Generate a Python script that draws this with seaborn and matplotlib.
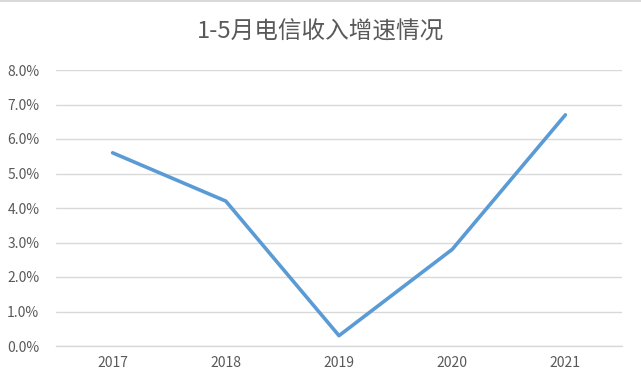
import matplotlib
matplotlib.use("Agg")
import matplotlib.pyplot as plt
from matplotlib.ticker import PercentFormatter
import pandas as pd
import seaborn as sns

# ── Data ──────────────────────────────────────────────────────────────────────
years = ["2017", "2018", "2019", "2020", "2021"]
growth = [5.6, 4.2, 0.3, 2.8, 6.7]          # % growth
y_ticks = [0, 1, 2, 3, 4, 5, 6, 7, 8]

TITLE = "1-5月电信收入增速情况"
LINE_COLOR = "#5B9BD5"
TEXT_COLOR = "#595959"
GRID_COLOR = "#D9D9D9"

sns.set_theme(style="white")
plt.rcParams["font.family"] = ["Noto Sans CJK SC", "DejaVu Sans"]

df = pd.DataFrame({"year": years, "growth": growth})

fig = plt.figure(figsize=(6.41, 3.84), dpi=100)
ax = fig.add_axes([56 / 641, 38 / 384, 566 / 641, 276 / 384])

sns.lineplot(data=df, x="year", y="growth", ax=ax, color=LINE_COLOR,
             linewidth=2.6, solid_capstyle="round", sort=False)

ax.set_xlim(-0.5, len(years) - 0.5)
ax.set_ylim(0, 8)
ax.set_yticks(y_ticks)
ax.yaxis.set_major_formatter(PercentFormatter(decimals=1))
ax.grid(axis="y", color=GRID_COLOR, linewidth=1.0)
ax.set_axisbelow(True)
for side in ["top", "right", "left"]:
    ax.spines[side].set_visible(False)
ax.spines["bottom"].set_color(GRID_COLOR)
ax.spines["bottom"].set_linewidth(1.0)

ax.tick_params(axis="both", length=0, labelsize=10, colors=TEXT_COLOR)
ax.tick_params(axis="y", pad=12)
ax.tick_params(axis="x", pad=7)
ax.set_xlabel("")
ax.set_ylabel("")

fig.text(0.5, 1 - 32 / 384, TITLE, ha="center", va="center",
         fontsize=17, color=TEXT_COLOR)

# light line along the top edge, as in the source screenshot
fig.add_artist(plt.Line2D([0, 1], [0.998, 0.998], transform=fig.transFigure,
                          color=GRID_COLOR, linewidth=1.5))

fig.savefig("out.png", dpi=100)
